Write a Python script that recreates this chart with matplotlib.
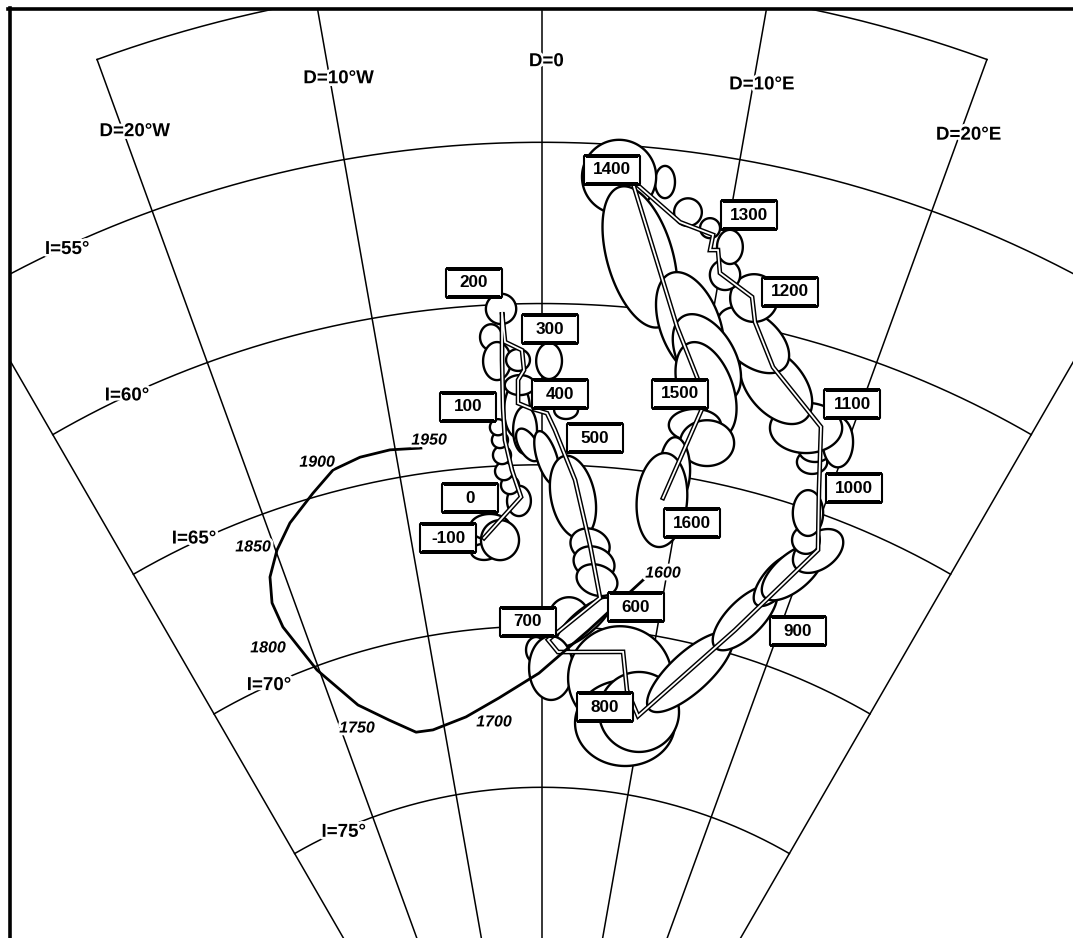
"""Secular variation curve (declination / inclination) on a polar D-I grid."""

import numpy as np
import matplotlib
matplotlib.use("Agg")
import matplotlib.pyplot as plt
import matplotlib.patheffects as pe
from matplotlib.lines import Line2D
from matplotlib.patches import Rectangle
from matplotlib.path import Path

plt.rcParams["font.family"] = ["Liberation Sans", "DejaVu Sans"]

# main archaeomagnetic curve, -100 .. 1600 (D degrees east, I degrees)
path_D = [-4.46, -1.53, -2.12, -2.52, -2.55, -2.48, -2.36, -2.25, -1.23, -1.13,
          -1.52, -1.56, -0.79, 0.33, 0.87, 2.36, 3.73, 4.85, 0.54, 1.45,
          7.33, 8.17, 9.63, 16.49, 20.66, 19.28, 18.07, 14.17, 12.51, 12.04,
          10.00, 9.68, 9.25, 9.28, 7.42, 4.67, 8.05, 10.53, 8.77]
path_I = [67.20, 65.99, 65.15, 64.21, 63.21, 61.72, 60.24, 61.17, 61.44, 62.06,
          62.36, 63.08, 63.24, 63.40, 63.92, 65.45, 67.44, 69.05, 70.43, 70.80,
          70.64, 71.80, 72.54, 69.26, 66.08, 64.33, 62.45, 61.08, 59.85, 59.11,
          58.57, 57.88, 57.92, 57.44, 57.20, 56.06, 60.43, 62.52, 65.74]

# boxed year labels
year_labels = ["-100", "0", "100", "200", "300", "400", "500", "600", "700",
               "800", "900", "1000", "1100", "1200", "1300", "1400", "1500", "1600"]
year_D = [-7.20, -5.25, -4.83, -3.89, 0.48, 1.16, 3.59, 7.93, -1.22,
          6.25, 21.47, 21.45, 19.45, 14.06, 10.98, 3.60, 8.83, 11.18]
year_I = [67.09, 65.93, 63.11, 59.29, 60.79, 62.80, 64.12, 69.21, 69.87,
          72.41, 68.65, 63.89, 61.47, 58.69, 56.64, 55.79, 62.47, 66.35]

# historical (observatory) record 1600 - 1950
hist_D = [8.19, 4.12, -0.28, -4.21, -7.66, -11.17, -12.90, -15.23, -17.69, -20.19,
          -21.58, -21.68, -21.10, -19.90, -18.37, -16.19, -14.43, -12.44, -10.35, -8.26]
hist_I = [68.35, 70.07, 71.46, 72.18, 72.66, 72.89, 72.85, 72.28, 71.56, 70.12,
          68.50, 67.68, 66.91, 66.20, 65.54, 64.87, 64.34, 64.15, 64.11, 64.21]
hist_years = ["1600", "1700", "1750", "1800", "1850", "1900", "1950"]
hist_year_D = [9.68, -4.90, -18.47, -23.37, -21.46, -15.34, -7.64]
hist_year_I = [68.04, 72.91, 72.23, 68.92, 65.85, 63.98, 64.00]

# confidence ellipses: centre D, I, semi-axes a (across), b (along meridian), tilt
ell_D = [-4.54, -3.94, -3.24, -1.69, -2.30, -2.68, -2.77, -2.86, -2.95, -1.64,
         -3.09, -2.80, -2.41, -1.49, 0.44, -1.41, -1.14, 1.58, -0.96, 0.35,
         2.26, 3.73, 4.14, 4.48, 2.32, 3.64, -0.54, 0.84, 7.36, 8.45,
         9.66, 13.64, 17.00, 18.51, 19.47, 20.69, 19.58, 19.08, 18.23, 18.17,
         19.41, 17.18, 14.62, 12.63, 12.16, 10.30, 10.29, 9.06, 7.77, 6.38,
         3.99, 5.46, 8.79, 10.12, 10.42, 10.12, 11.13, 9.30, 8.72]
ell_I = [67.63, 66.87, 67.30, 66.11, 65.61, 65.17, 64.67, 64.20, 63.80, 63.29,
         61.00, 61.75, 60.14, 61.74, 61.78, 62.52, 63.92, 63.29, 64.38, 64.79,
         65.98, 67.44, 67.99, 68.51, 69.71, 69.84, 70.74, 71.30, 71.46, 72.82,
         72.41, 70.88, 68.81, 67.39, 66.99, 66.11, 65.92, 65.11, 63.57, 63.19,
         62.73, 62.62, 61.60, 60.41, 59.13, 58.60, 57.72, 57.25, 56.86, 56.02,
         55.99, 58.41, 60.31, 61.24, 62.22, 63.35, 63.83, 64.83, 65.81]
ell_a = [0.40, 0.62, 0.59, 0.37, 0.28, 0.28, 0.28, 0.25, 0.25, 0.40,
         0.34, 0.43, 0.47, 0.37, 0.40, 0.47, 0.37, 0.37, 0.56, 0.87,
         1.30, 0.62, 0.65, 0.65, 0.62, 1.09, 0.31, 0.68, 1.61, 1.55,
         1.24, 1.71, 1.30, 0.99, 1.18, 0.87, 0.43, 0.47, 0.47, 0.50,
         0.47, 1.12, 1.40, 1.30, 0.74, 0.47, 0.40, 0.31, 0.43, 0.31,
         1.15, 2.26, 1.71, 1.49, 1.55, 0.81, 0.84, 0.47, 0.78]
ell_b = [0.25, 0.40, 0.62, 0.47, 0.28, 0.28, 0.28, 0.25, 0.25, 0.84,
         0.40, 0.59, 0.47, 0.34, 0.56, 0.31, 0.74, 0.28, 0.28, 0.31,
         0.68, 0.50, 0.50, 0.47, 0.62, 0.37, 0.40, 0.99, 1.61, 1.33,
         1.24, 0.62, 0.56, 0.43, 0.56, 0.56, 0.43, 0.71, 0.37, 0.37,
         0.78, 0.78, 0.87, 0.78, 0.74, 0.47, 0.53, 0.31, 0.43, 0.50,
         1.15, 1.02, 0.93, 0.87, 0.84, 0.50, 0.71, 1.02, 1.46]
ell_tilt = [-4.5, -4, -3, -2, -2, -3, -3, -3, -3, -2,
            -3, -3, -2, -1, 0, -1, -1, 2, -61, -72,
            -76, -16, -16, -15, 2, 44, -1, 1, 7, 8,
            10, 56, 62, 68, 60, 56, 20, 19, 18, 18,
            19, 17, -35, -27, 12, 10, 10, 9, 8, 6,
            4, 111.5, -61, -50, -60, 10, 11, 9, 4]

# grid
grid_D = [-30, -20, -10, 0, 10, 20, 30]
grid_I = [50, 55, 60, 65, 70, 75]
d_labels = ["D=20°W", "D=10°W", "D=0", "D=10°E", "D=20°E"]
d_label_D = [-19.5, -9.6, 0.2, 10.4, 20.4]
d_label_I = [52.5, 52.5, 52.5, 52.6, 52.4]
i_labels = ["I=55°", "I=60°", "I=65°", "I=70°", "I=75°"]
i_label_D = [-24.7, -25.1, -25.1, -24.6, -23.8]
i_label_I = [55.1, 60.0, 64.9, 70.0, 75.1]

W, H = 1073, 938
CX, CY = 542, 1282          # pole position in image pixels (y downwards)
PX_PER_DEG = 32.25
R_MAX = 45.0
R_ORIGIN = -0.34


def polar(D, I):
    return np.radians(np.asarray(D, dtype=float)), 90.0 - np.asarray(I, dtype=float)


def ellipse_outline(D, I, a, b, tilt, n=120):
    """Ellipse drawn in the local (screen-like) frame around (D, I)."""
    rho = (90.0 - I) - R_ORIGIN
    d = np.radians(D)
    x0, y0 = rho * np.sin(d), rho * np.cos(d)
    phi = np.radians(tilt - D)
    t = np.linspace(0, 2 * np.pi, n)
    ex, ey = a * np.cos(t), b * np.sin(t)
    x = x0 + ex * np.cos(phi) - ey * np.sin(phi)
    y = y0 + ex * np.sin(phi) + ey * np.cos(phi)
    return np.arctan2(x, y), np.hypot(x, y) + R_ORIGIN


fig = plt.figure(figsize=(W / 100, H / 100), dpi=100)
rad = (R_MAX - R_ORIGIN) * PX_PER_DEG
ax = fig.add_axes([(CX - rad) / W, (H - CY - rad) / H, 2 * rad / W, 2 * rad / H],
                  projection="polar")
ax.set_theta_zero_location("N")
ax.set_theta_direction(-1)

# grid lines
for d in grid_D:
    i_top = 45 if abs(d) <= 10 else (50 if abs(d) == 20 else 55)
    th, r = polar([d, d], [i_top, 82])
    ax.plot(th, r, color="black", lw=1.1, zorder=1)
for inc in grid_I:
    span = 20 if inc == 50 else 30
    dd = np.linspace(-span, span, 300)
    th, r = polar(dd, np.full_like(dd, inc))
    ax.plot(th, r, color="black", lw=1.1, zorder=1)

halo = [pe.withStroke(linewidth=4, foreground="white")]
for txt, d, inc in zip(d_labels, d_label_D, d_label_I):
    th, r = polar(d, inc)
    ax.text(th, r, txt, ha="center", va="center", fontsize=13.5, fontweight="bold",
            path_effects=halo, zorder=2)
for txt, d, inc in zip(i_labels, i_label_D, i_label_I):
    th, r = polar(d, inc)
    ax.text(th, r, txt, ha="center", va="center", fontsize=13.5, fontweight="bold",
            path_effects=halo, zorder=2)

# confidence ellipses
for d, inc, a, b, tl in zip(ell_D, ell_I, ell_a, ell_b, ell_tilt):
    th, r = ellipse_outline(d, inc, a, b, tl)
    ax.fill(th, r, facecolor="white", edgecolor="black", lw=1.7, zorder=3)

# main curve drawn as a double line
th, r = polar(path_D, path_I)
ax.plot(th, r, color="black", lw=3.4, solid_joinstyle="miter", zorder=4)
ax.plot(th, r, color="white", lw=1.3, solid_joinstyle="miter", zorder=4.1)

# historical record
th, r = polar(hist_D, hist_I)
ax.plot(th, r, color="black", lw=2.0, solid_joinstyle="round", zorder=5)
for txt, d, inc in zip(hist_years, hist_year_D, hist_year_I):
    th, r = polar(d, inc)
    ax.text(th, r, txt, ha="center", va="center", fontsize=11.5, fontweight="bold",
            fontstyle="italic", path_effects=halo, zorder=6)

# boxed year labels
box = Path([(-28.5, -14), (28.5, -14), (28.5, 14), (-28.5, 14), (-28.5, -14)],
           [Path.MOVETO, Path.LINETO, Path.LINETO, Path.LINETO, Path.CLOSEPOLY])
th, r = polar(year_D, year_I)
ax.plot(th, r, ls="none", marker=box, ms=41, mfc="white", mec="black", mew=1.5, zorder=6)
for txt, t_, r_ in zip(year_labels, th, r):
    ax.text(t_, r_, txt, ha="center", va="center", fontsize=12.3, fontweight="bold", zorder=7)

ax.set_rlim(0, R_MAX)
ax.set_rorigin(R_ORIGIN)
ax.grid(False)
ax.set_xticks([])
ax.set_yticks([])
ax.spines["polar"].set_visible(False)

# frame: only top and left edges are drawn
fig.add_artist(Rectangle((0, (H - 9) / H), 1, 9 / H, transform=fig.transFigure,
                         color="white", zorder=10))
fig.add_artist(Rectangle((0, 0), 9 / W, 1, transform=fig.transFigure,
                         color="white", zorder=10))
fig.add_artist(Line2D([8 / W, 1], [(H - 9) / H] * 2, transform=fig.transFigure,
                      color="black", lw=2.6, zorder=11))
fig.add_artist(Line2D([9.5 / W] * 2, [0, (H - 8) / H], transform=fig.transFigure,
                      color="black", lw=2.6, zorder=11))

fig.savefig("out.png", dpi=100)
